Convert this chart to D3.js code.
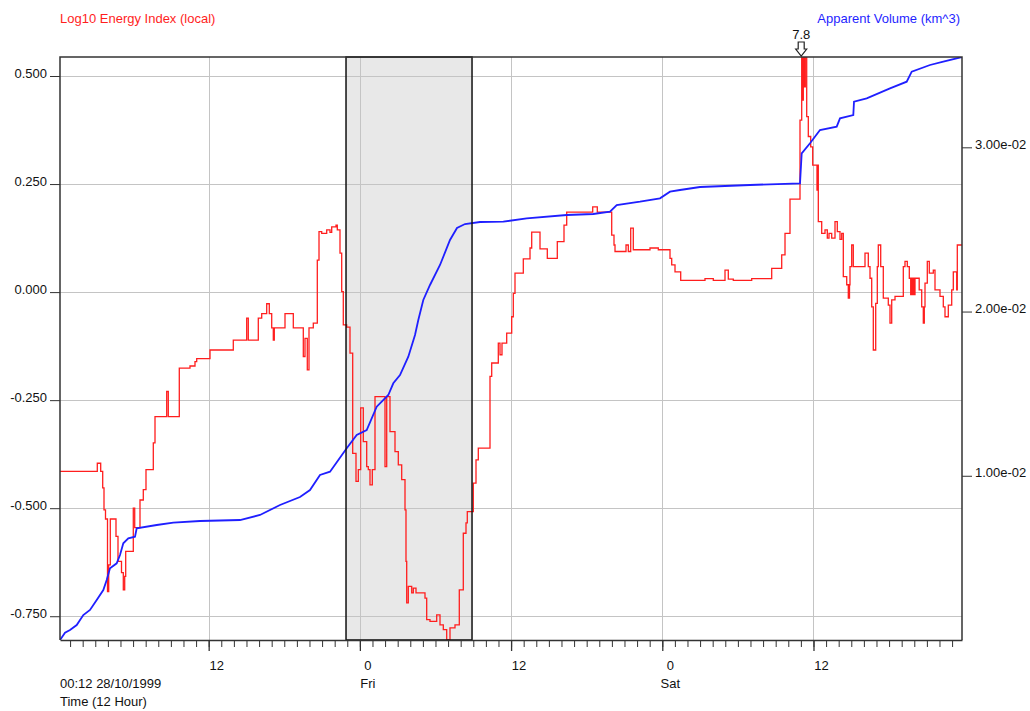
<!DOCTYPE html>
<html><head><meta charset="utf-8">
<script src="https://cdn.jsdelivr.net/npm/d3@7"></script>
<style>
body{margin:0;background:#fff}
svg{display:block}
text{font-family:"Liberation Sans",Arial,Helvetica,sans-serif;font-size:13px}
</style>
</head><body>
<svg id="chart" width="1030" height="711"></svg>
<script>
// ---- data (time in hours since 28/10/1999 00:00) ----
const startHour = 0.2;   // 00:12 28/10/1999
const endHour = 71.787;
const shadeHours = [22.9, 32.9];
const leftTitle = "Log10 Energy Index (local)";
const rightTitle = "Apparent Volume (km^3)";
const startLabel = "00:12 28/10/1999";
const axisTitle = "Time (12 Hour)";

const energyHours = [0.20,3.16,3.43,3.589,3.692,3.811,3.970,4.065,4.192,4.644,4.803,5.081,5.224,5.335,5.414,6.017,6.129,6.549,6.811,7.025,7.605,7.740,8.668,8.795,9.668,10.517,10.914,11.049,12.105,13.954,15.017,15.144,
15.938,16.208,16.605,16.811,17.002,17.129,17.208,18.057,18.716,19.510,19.644,19.827,19.962,20.303,20.621,20.756,20.970,21.367,21.629,21.763,22.105,22.208,22.422,22.557,22.684,22.954,23.216,23.430,
23.692,23.875,24.065,24.271,24.541,24.668,24.803,24.986,25.200,25.994,26.129,26.390,26.787,27.049,27.319,27.581,27.660,27.716,27.843,28.113,28.240,28.454,29.168,29.303,29.565,30.097,30.359,30.621,30.890,31.152,31.549,31.890,32.208,32.422,32.525,33.002,33.216,33.398,
34.327,34.462,34.986,35.121,35.279,35.652,36.049,36.176,36.311,36.970,37.502,37.637,38.295,38.875,39.668,40.200,40.414,42.478,42.843,43.986,44.168,44.248,45.121,45.303,45.494,45.700,47.025,47.684,48.613,48.748,49.010,49.462,51.390,52.049,52.978,53.240,53.637,55.097,56.684,57.478,57.740,58.136,58.930,
59.065,59.129,59.192,59.271,59.351,59.462,
59.589,59.779,59.938,60.279,60.335,60.383,60.652,60.914,61.097,61.232,61.446,61.708,61.890,62.105,62.240,62.367,62.637,62.763,62.859,62.898,63.033,63.160,64.089,64.351,64.486,64.621,64.748,64.938,65.065,65.144,65.335,65.541,65.938,66.073,66.208,66.470,67.129,67.263,67.446,67.605,67.716,67.779,67.843,67.898,67.978,68.057,68.390,68.589,68.716,68.795,68.851,69.033,69.192,69.510,69.644,70.041,70.303,70.438,70.700,70.970,71.097,71.367,71.414,71.787];

const energyValues = [-0.415,-0.396,-0.415,-0.453,-0.504,-0.525,-0.693,-0.631,-0.525,-0.565,-0.623,-0.649,-0.689,-0.658,-0.600,-0.500,-0.545,-0.481,-0.457,-0.411,-0.349,-0.288,-0.230,-0.288,-0.176,-0.171,-0.161,-0.154,-0.134,-0.111,-0.060,-0.111,
-0.060,-0.050,-0.027,-0.050,-0.083,-0.111,-0.083,-0.050,-0.083,-0.149,-0.107,-0.180,-0.083,-0.072,0.074,0.140,0.136,0.144,0.138,0.151,0.155,0.144,0.090,0.001,-0.076,-0.081,-0.141,-0.373,
-0.438,-0.411,-0.268,-0.346,-0.404,-0.411,-0.446,-0.411,-0.242,-0.404,-0.242,-0.323,-0.369,-0.400,-0.434,-0.504,-0.623,-0.719,-0.681,-0.696,-0.685,-0.696,-0.708,-0.758,-0.762,-0.747,-0.770,-0.781,-0.804,-0.777,-0.770,-0.689,-0.558,-0.534,-0.508,-0.442,-0.388,-0.361,
-0.195,-0.164,-0.118,-0.145,-0.118,-0.095,-0.057,-0.003,0.044,0.077,0.102,0.139,0.100,0.078,0.117,0.155,0.185,0.197,0.185,0.132,0.109,0.094,0.109,0.094,0.148,0.098,0.102,0.098,0.078,0.063,0.047,0.027,0.031,0.027,0.051,0.030,0.027,0.031,0.055,0.086,0.136,0.215,0.398,
7.8,0.444,0.62,0.475,0.60,0.406,
0.360,0.336,0.294,0.236,0.294,0.163,0.136,0.144,0.125,0.136,0.125,0.163,0.140,0.122,0.136,0.036,0.017,-0.014,0.017,0.059,0.109,0.059,0.090,0.059,0.032,-0.034,-0.134,-0.026,0.059,0.109,0.059,-0.014,-0.030,-0.072,-0.018,-0.010,0.059,0.071,0.059,0.032,-0.006,0.032,-0.006,0.032,-0.006,0.032,0.005,-0.034,-0.072,-0.034,0.021,0.071,0.044,0.051,0.005,-0.010,-0.034,-0.057,-0.030,0.005,0.047,0.005,0.109,0.109];

const volumeHours = [0.200,0.597,0.994,1.525,2.049,2.581,3.113,3.637,3.906,4.168,4.700,4.962,5.224,5.621,6.152,6.287,7.875,9.192,11.311,14.486,16.073,17.660,19.248,20.041,20.835,21.629,22.954,23.748,24.541,25.335,26.256,26.652,27.184,27.843,28.375,28.637,29.033,29.565,30.359,31.152,31.708,32.343,33.533,35.383,37.240,40.414,42.525,43.851,44.383,46.232,47.819,48.613,49.406,50.994,54.962,58.930,59.065,59.724,60.517,61.843,62.105,63.160,63.216,64.224,66.073,67.398,67.795,69.248,70.303,71.787];
const volumeValues = [0,0.000445,0.000609,0.000913,0.001522,0.001827,0.002436,0.003045,0.003654,0.004366,0.004670,0.005176,0.005888,0.006193,0.006290,0.006802,0.007003,0.007143,0.007246,0.007307,0.007612,0.008220,0.008708,0.009134,0.010047,0.010248,0.011673,0.012483,0.012787,0.014206,0.014919,0.015631,0.016136,0.017251,0.018572,0.019485,0.020703,0.021617,0.022835,0.024357,0.025088,0.025331,0.025453,0.025471,0.025678,0.025879,0.025940,0.026080,0.026488,0.026689,0.026896,0.027298,0.027401,0.027584,0.027706,0.027809,0.029636,0.030245,0.031055,0.031256,0.031767,0.031968,0.032778,0.032985,0.033594,0.033996,0.034605,0.035013,0.035214,0.035500];

const leftTicks = [0.5,0.25,0,-0.25,-0.5,-0.75];
const leftTickLabels = ["0.500","0.250","0.000","-0.250","-0.500","-0.750"];
const rightTicks = [0.01,0.02,0.03];
const rightTickLabels = ["1.00e-02","2.00e-02","3.00e-02"];
const majorTickHours = [12,24,36,48,60];
const majorTickLabels = ["12","0","12","0","12"];
const dayLabels = ["","Fri","","Sat",""];
const peakLabel = "7.8";

// ---- helpers ----
const base = Date.UTC(1999,9,28,0,0);
const toDate = h => new Date(base + h*3600e3);

const M = {left:60, right:962, top:57, bottom:640};
const svg = d3.select("#chart");

const x = d3.scaleUtc().domain([toDate(startHour), toDate(endHour)]).range([M.left, M.right]);
const yL = d3.scaleLinear().domain([-0.805, 0.544]).range([M.bottom, M.top]);
const yR = d3.scaleLinear().domain([0, 0.0355]).range([M.bottom, M.top]);

svg.append("defs").append("clipPath").attr("id","plotclip")
  .append("rect").attr("x",M.left).attr("y",M.top).attr("width",M.right-M.left).attr("height",M.bottom-M.top);

// shaded window
svg.append("rect")
  .attr("x", x(toDate(shadeHours[0]))).attr("y", M.top)
  .attr("width", x(toDate(shadeHours[1])) - x(toDate(shadeHours[0])))
  .attr("height", M.bottom - M.top)
  .attr("fill","#e8e8e8");

// gridlines
const grid = svg.append("g").attr("stroke","#c4c4c4").attr("stroke-width",1);
grid.selectAll("line.h").data(leftTicks).join("line")
  .attr("x1",M.left).attr("x2",M.right)
  .attr("y1",d=>Math.round(yL(d))+0.5).attr("y2",d=>Math.round(yL(d))+0.5);
grid.selectAll("line.v").data(majorTickHours).join("line")
  .attr("y1",M.top).attr("y2",M.bottom)
  .attr("x1",d=>Math.round(x(toDate(d)))+0.5).attr("x2",d=>Math.round(x(toDate(d)))+0.5);

// lines
const energy = energyHours.map((h,i)=>({t:toDate(h), v:energyValues[i]}));
const volume = volumeHours.map((h,i)=>({t:toDate(h), v:volumeValues[i]}));

const plot = svg.append("g").attr("clip-path","url(#plotclip)");
plot.append("path").datum(energy)
  .attr("fill","none").attr("stroke","#ff1e1e").attr("stroke-width",1.3)
  .attr("d", d3.line().curve(d3.curveStepAfter).x(d=>x(d.t)).y(d=>yL(d.v)));
plot.append("path").datum(volume)
  .attr("fill","none").attr("stroke","#1f1fff").attr("stroke-width",1.8)
  .attr("d", d3.line().x(d=>x(d.t)).y(d=>yR(d.v)));

// shaded window border
svg.append("rect")
  .attr("x", x(toDate(shadeHours[0]))).attr("y", M.top)
  .attr("width", x(toDate(shadeHours[1])) - x(toDate(shadeHours[0])))
  .attr("height", M.bottom - M.top)
  .attr("fill","none").attr("stroke","#111").attr("stroke-width",1.5);

// frame
svg.append("path")
  .attr("d", `M${M.left},${M.bottom}V${M.top}H${M.right}V${M.bottom}`)
  .attr("fill","none").attr("stroke","#333").attr("stroke-width",1.5);

// left axis
const la = svg.append("g").attr("transform",`translate(${M.left},0)`)
  .call(d3.axisLeft(yL).tickValues(leftTicks).tickSize(10).tickSizeOuter(0).tickPadding(3)
        .tickFormat((d,i)=>leftTickLabels[i]));
la.select(".domain").remove();
la.selectAll("line").attr("stroke","#333");
la.selectAll("text").attr("dy","1px").attr("fill","#111").style("font-size","13px");

// right axis
const ra = svg.append("g").attr("transform",`translate(${M.right},0)`)
  .call(d3.axisRight(yR).tickValues(rightTicks).tickSize(10).tickSizeOuter(0).tickPadding(3)
        .tickFormat((d,i)=>rightTickLabels[i]));
ra.select(".domain").remove();
ra.selectAll("line").attr("stroke","#333");
ra.selectAll("text").attr("dy","1px").attr("fill","#111").style("font-size","13px");

// bottom axis: hourly minor ticks, 12h major ticks
const hourTicks = d3.utcHour.range(toDate(startHour), toDate(endHour));
const ba = svg.append("g").attr("transform",`translate(0,${M.bottom})`)
  .call(d3.axisBottom(x).tickValues(hourTicks).tickSize(7).tickSizeOuter(0).tickFormat(""));
ba.select(".domain").attr("stroke","#333").attr("stroke-width",1.5);
ba.selectAll("line").attr("stroke","#333");
const bm = svg.append("g").attr("transform",`translate(0,${M.bottom})`)
  .call(d3.axisBottom(x).tickValues(majorTickHours.map(toDate)).tickSize(11).tickSizeOuter(0).tickFormat(""));
bm.select(".domain").remove();
bm.selectAll("line").attr("stroke","#333").attr("stroke-width",1.3);

// major tick labels
majorTickHours.forEach((h,i)=>{
  const px = x(toDate(h)) + 8;
  svg.append("text").attr("x",px).attr("y",670).attr("text-anchor","middle").attr("fill","#111").text(majorTickLabels[i]);
  if (dayLabels[i]) svg.append("text").attr("x",px).attr("y",688).attr("text-anchor","middle").attr("fill","#111").text(dayLabels[i]);
});
svg.append("text").attr("x",M.left).attr("y",688).attr("fill","#111").text(startLabel);
svg.append("text").attr("x",M.left).attr("y",706).attr("fill","#111").text(axisTitle);

// titles
svg.append("text").attr("x",M.left).attr("y",23).attr("fill","#ff1e1e").text(leftTitle);
svg.append("text").attr("x",M.right-2).attr("y",23).attr("text-anchor","end").attr("fill","#1f1fff").text(rightTitle);

// off-scale peak marker
const peakIdx = d3.maxIndex(energyValues);
const px = x(toDate(energyHours[peakIdx])) - 0.5;
svg.append("path")
  .attr("d", `M${px-3},${M.top-15}H${px+3}V${M.top-8}H${px+5.5}L${px},${M.top-1}L${px-5.5},${M.top-8}H${px-3}Z`)
  .attr("fill","#fff").attr("stroke","#222").attr("stroke-width",1.2);
svg.append("text").attr("x",px).attr("y",M.top-18).attr("text-anchor","middle").attr("fill","#111").text(peakLabel);
</script>
</body></html>
